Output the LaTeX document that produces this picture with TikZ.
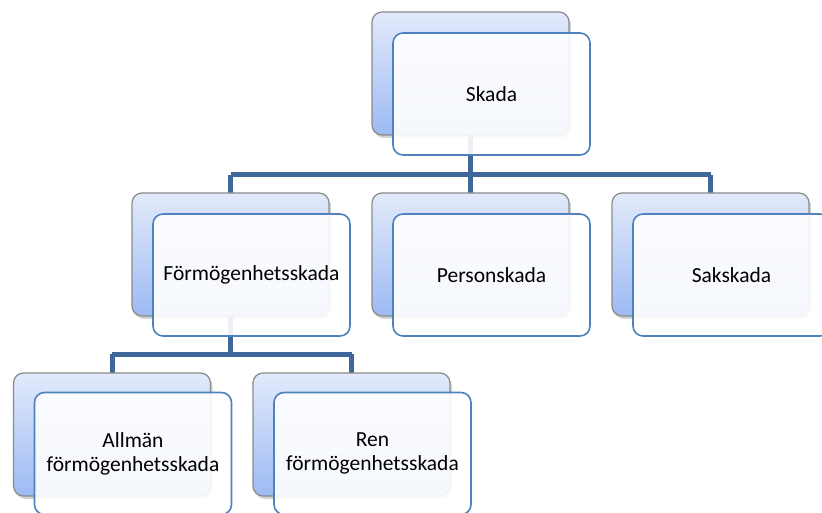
\documentclass[tikz,border=0pt]{standalone}
\usepackage{fontspec}
\setmainfont{Carlito}
\usetikzlibrary{shadows,backgrounds}
\definecolor{conncol}{HTML}{3F679A}
\definecolor{frontcol}{HTML}{4F81BD}
\definecolor{backtop}{HTML}{E2EAFB}
\definecolor{backbot}{HTML}{9DBAF3}
\definecolor{backedge}{HTML}{8A8A8A}
\tikzset{
  backbox/.style={rounded corners=10pt, minimum width=197pt, minimum height=123pt,
    draw=backedge, line width=1.2pt, top color=backtop, bottom color=backbot,
    drop shadow={shadow xshift=2pt, shadow yshift=-3pt, opacity=0.35}},
  frontbox/.style={rounded corners=10pt, minimum width=197pt, minimum height=122pt,
    draw=frontcol, line width=1.6pt, fill=white, fill opacity=0.9, text opacity=1,
    align=center, font=\fontsize{21.5}{24}\selectfont, inner sep=0pt},
  conn/.style={draw=conncol, line width=5pt}
}
\begin{document}
\begin{tikzpicture}[x=1pt,y=-1pt]
\useasboundingbox (0,0) rectangle (822,513);
% back boxes
\node[backbox] (skB) at (470.5,73.5) {};
\node[backbox] (fB) at (230.5,254.5) {};
\node[backbox] (pB) at (470.5,254.5) {};
\node[backbox] (sB) at (710.5,254.5) {};
\node[backbox] (aB) at (112,434.5) {};
\node[backbox] (rB) at (351.5,434.5) {};
\coordinate (bar1) at (470.5,175);
\coordinate (bar2) at (230.5,354);
% connectors (behind everything)
\begin{scope}[on background layer]
  \draw[conn] (skB.center) -- (bar1);
  \draw[conn] (fB.north |- bar1) -- (sB.north |- bar1);
  \draw[conn] (fB.north |- bar1) -- (fB.center);
  \draw[conn] (pB.north |- bar1) -- (pB.center);
  \draw[conn] (sB.north |- bar1) -- (sB.center);
  \draw[conn] (fB.center) -- (bar2);
  \draw[conn] (aB.north |- bar2) -- (rB.north |- bar2);
  \draw[conn] (aB.north |- bar2) -- (aB.center);
  \draw[conn] (rB.north |- bar2) -- (rB.center);
\end{scope}
% front boxes
\node[frontbox] (sk) at ([shift={(21,20.5)}]skB.center) {Skada};
\node[frontbox] (f) at ([shift={(21,20.5)}]fB.center) {Förmögenhetsskada};
\node[frontbox] (p) at ([shift={(21,20.5)}]pB.center) {Personskada};
\node[frontbox] (s) at ([shift={(21,20.5)}]sB.center) {Sakskada};
\node[frontbox] (a) at ([shift={(21,19)}]aB.center) {Allmän\\förmögenhetsskada};
\node[frontbox] (r) at ([shift={(21,19)}]rB.center) {Ren\\förmögenhetsskada};
\end{tikzpicture}
\end{document}
